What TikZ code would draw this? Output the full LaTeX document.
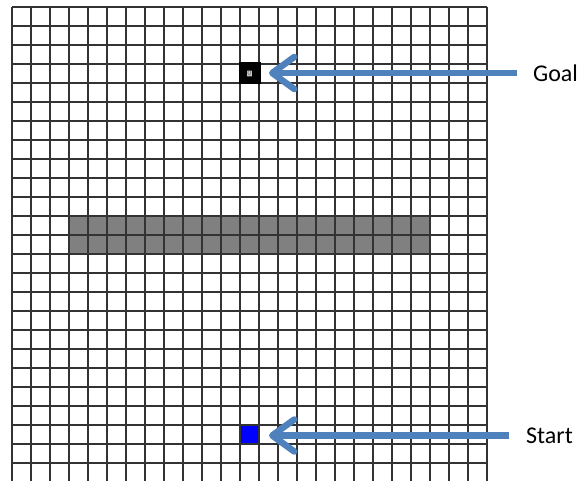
\documentclass[tikz,border=0pt]{standalone}
\usepackage{fontspec}
\setmainfont{Carlito}
\usetikzlibrary{arrows.meta,positioning}
\definecolor{arrowblue}{RGB}{79,129,189}
\definecolor{wallgray}{RGB}{128,128,128}
\definecolor{startblue}{RGB}{0,0,255}
\begin{document}
\begin{tikzpicture}[x=1pt, y=-1pt,
    gridline/.style={line width=1.8pt, draw=black!80},
    cell/.style={minimum size=19pt, inner sep=0pt, outer sep=0pt},
    goalcell/.style={cell, fill=black, draw=black, line width=3pt},
    startcell/.style={cell, fill=startblue, draw=black!80, line width=1.8pt},
    marker/.style={font=\fontsize{7}{7}\selectfont, fill=black!22, text=black!60,
                   inner sep=0.6pt, rounded corners=0.5pt},
    lbl/.style={font=\fontsize{24}{28}\selectfont, anchor=west, inner sep=0pt},
    pointer/.style={draw=arrowblue, line width=6.5pt,
                    -{Straight Barb[length=22pt, width=32pt, round]}, shorten >=10pt}
]
\def\cs{19}
\useasboundingbox (0,0) rectangle (579,481);
\clip (0,0) rectangle (579,481);

% wall
\fill[wallgray] ({12+3*\cs},{7+11*\cs}) rectangle ({12+22*\cs},{7+13*\cs});

% 25 x 25 grid
\foreach \i in {0,...,25} {
  \draw[gridline] ({12+\i*\cs},7) -- ({12+\i*\cs},490);
  \draw[gridline] (12,{7+\i*\cs}) -- ({12+25*\cs},{7+\i*\cs});
}

\node[goalcell] (goal) at ({12+12.5*\cs},{7+3.5*\cs}) {};
\node[marker] (goalmark) at (goal) {0};
\node[startcell] (start) at ({12+12.5*\cs},{7+22.5*\cs}) {};

\node[lbl] (goallbl) at (533,73) {Goal};
\node[lbl] (startlbl) at (526,435.5) {Start};

\draw[pointer] ([xshift=-16pt]goallbl.west) -- (goallbl.west -| goal.east);
\draw[pointer] ([xshift=-17pt]startlbl.west) -- (startlbl.west -| start.east);
\end{tikzpicture}
\end{document}
